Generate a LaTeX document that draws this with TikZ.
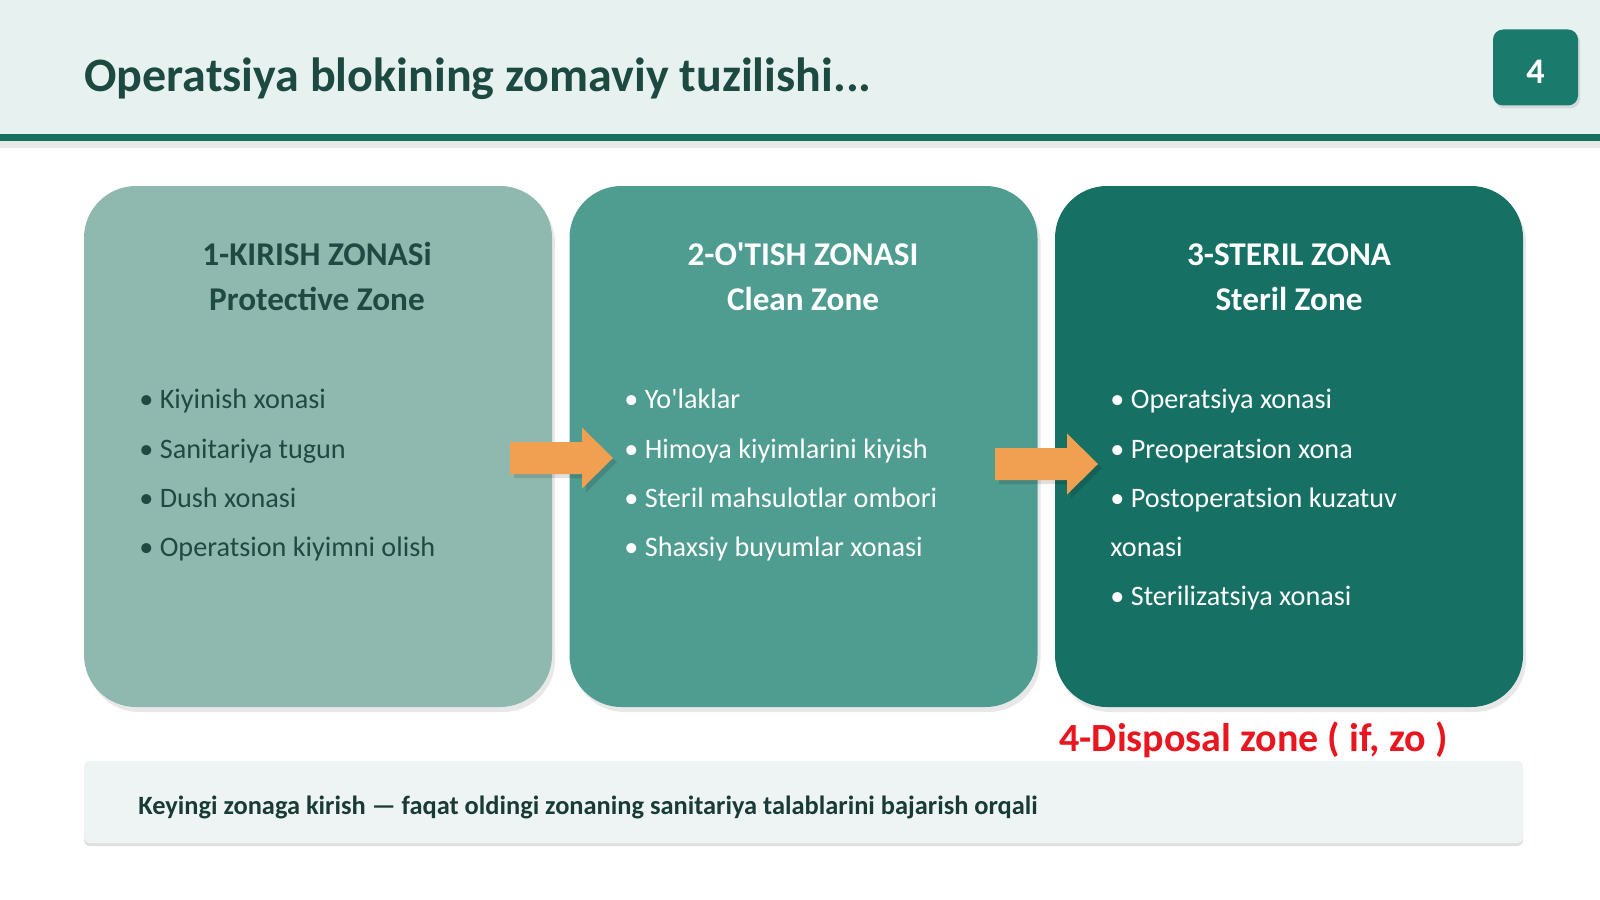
\documentclass[tikz,border=0pt]{standalone}
\usepackage{fontspec}
\setmainfont{Carlito}
\usetikzlibrary{shadows}
\definecolor{hdrbg}{HTML}{E7F1F0}
\definecolor{titlecol}{HTML}{1C4A40}
\definecolor{linecol}{HTML}{17705F}
\definecolor{pagecol}{HTML}{1A7A6B}
\definecolor{boxA}{HTML}{8FB8AF}
\definecolor{boxB}{HTML}{4F9D90}
\definecolor{boxC}{HTML}{177064}
\definecolor{darktxt}{HTML}{1F4A42}
\definecolor{arrowcol}{HTML}{F0A050}
\definecolor{redtxt}{HTML}{E8161E}
\definecolor{notefill}{HTML}{EEF4F4}
\begin{document}
\begin{tikzpicture}[x=0.5pt,y=-0.5pt,
  zonebox/.style={draw=none,rounded corners=26pt,minimum width=234pt,minimum height=260.5pt,inner sep=0pt,
    drop shadow={opacity=0.18,shadow xshift=1.5pt,shadow yshift=-2.5pt}},
  zhead/.style={anchor=base,font=\fontsize{16.6}{19}\selectfont\bfseries},
  item/.style={anchor=base west,font=\fontsize{14.1}{16}\selectfont},
  flowpath/.style={fill=arrowcol},
  flowshadow/.style={fill=black,opacity=0.12}]
\useasboundingbox (0,0) rectangle (1600,899);
\fill[white] (0,0) rectangle (1600,899);
% header
\fill[hdrbg] (0,0) rectangle (1600,134);
\fill[gray!18] (0,140) rectangle (1600,148);
\fill[linecol] (0,134) rectangle (1600,141);
\node[anchor=base west,text=titlecol,font=\fontsize{24}{28}\selectfont\bfseries,inner sep=0pt] (title) at (84,92) {Operatsiya blokining zomaviy tuzilishi...};
\node[fill=pagecol,rounded corners=5pt,minimum width=42.5pt,minimum height=38pt,inner sep=0pt,
  drop shadow={opacity=0.2,shadow xshift=1pt,shadow yshift=-1.5pt}] (page) at (1535.5,67.5) {};
\node[text=white,font=\fontsize{18}{20}\selectfont\bfseries,inner sep=0pt] (pnum) at (1535.5,72) {4};
% zone boxes
\node[zonebox,fill=boxA] (z1) at (318,446.5) {};
\node[zonebox,fill=boxB] (z2) at (803.5,446.5) {};
\node[zonebox,fill=boxC] (z3) at (1289,446.5) {};
% zone titles
\node[zhead,text=darktxt] (t1a) at (317,265) {1-KIRISH ZONASi};
\node[zhead,text=darktxt] (t1b) at (317,310) {Protective Zone};
\node[zhead,text=white] (t2a) at (803,265) {2-O\textquotesingle TISH ZONASI};
\node[zhead,text=white] (t2b) at (803,310) {Clean Zone};
\node[zhead,text=white] (t3a) at (1289,265) {3-STERIL ZONA};
\node[zhead,text=white] (t3b) at (1289,310) {Steril Zone};
% items zone 1
\begin{scope}[every node/.style={item,text=darktxt,inner sep=0pt}]
\node (a1) at (139,408) {• Kiyinish xonasi};
\node (a2) at (139,458) {• Sanitariya tugun};
\node (a3) at (139,507) {• Dush xonasi};
\node (a4) at (139,556) {• Operatsion kiyimni olish};
\end{scope}
\begin{scope}[every node/.style={item,text=white,inner sep=0pt}]
\node (b1) at (624,408) {• Yo\textquotesingle laklar};
\node (b2) at (624,458) {• Himoya kiyimlarini kiyish};
\node (b3) at (624,507) {• Steril mahsulotlar ombori};
\node (b4) at (624,556) {• Shaxsiy buyumlar xonasi};
\node (c1) at (1110,408) {• Operatsiya xonasi};
\node (c2) at (1110,458) {• Preoperatsion xona};
\node (c3) at (1110,507) {• Postoperatsion kuzatuv};
\node (c4) at (1110,556) {xonasi};
\node (c5) at (1110,605) {• Sterilizatsiya xonasi};
\end{scope}
% arrows
\coordinate (f1) at (510,458);
\coordinate (f2) at (995,464);
\foreach \f in {f1,f2}{
  \fill[flowshadow] ([xshift=2pt,yshift=-2pt]\f) ++(0,-16) -- ++(72,0) -- ++(0,-14.5) -- ++(31,30.5) -- ++(-31,30.5) -- ++(0,-14.5) -- ++(-72,0) -- cycle;
  \fill[flowpath] (\f) ++(0,-16) -- ++(72,0) -- ++(0,-14.5) -- ++(31,30.5) -- ++(-31,30.5) -- ++(0,-14.5) -- ++(-72,0) -- cycle;
}
% disposal
\node[anchor=base west,text=redtxt,font=\fontsize{20}{24}\selectfont\bfseries,inner sep=0pt] (disp) at (1059,751) {4-Disposal zone ( if, zo )};
% note
\node[fill=notefill,rounded corners=3pt,minimum width=719.5pt,minimum height=41pt,inner sep=0pt,
  drop shadow={opacity=0.25,shadow xshift=0pt,shadow yshift=-1.5pt}] (note) at (803.5,802) {};
\node[anchor=base west,text=darktxt!80!black,font=\fontsize{13.2}{15}\selectfont\bfseries,inner sep=0pt] (notetxt) at (138,814) {Keyingi zonaga kirish — faqat oldingi zonaning sanitariya talablarini bajarish orqali};
\end{tikzpicture}
\end{document}
